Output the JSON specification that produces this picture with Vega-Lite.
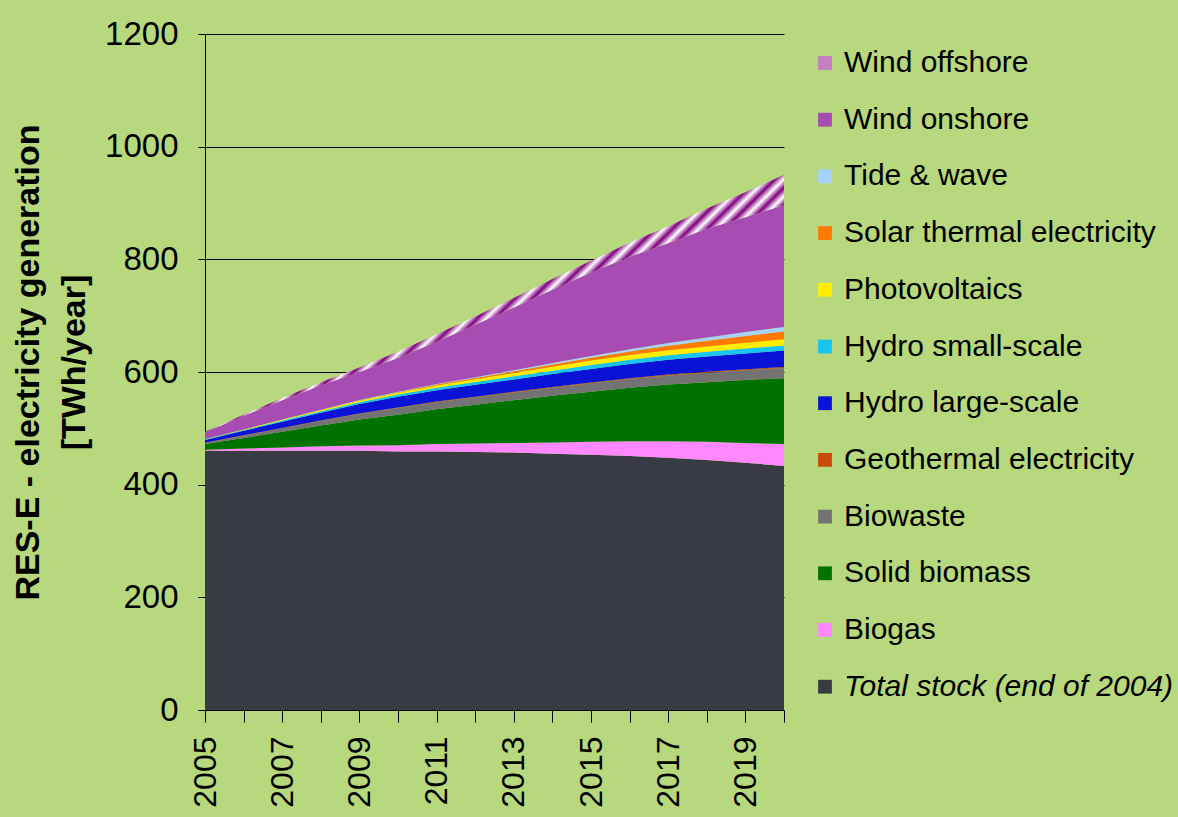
{
  "$schema": "https://vega.github.io/schema/vega-lite/v6.json",
  "width": 579,
  "height": 676,
  "autosize": "none",
  "padding": {"left": 205, "top": 34, "right": 394, "bottom": 107},
  "background": "#b7d87c",
  "config": {
    "view": {"stroke": null},
    "font": "Liberation Sans"
  },
  "datasets": {
    "series": [
      {"key": "stock", "name": "Total stock (end of 2004)", "ord": 1},
      {"key": "biogas", "name": "Biogas", "ord": 2},
      {"key": "solid", "name": "Solid biomass", "ord": 3},
      {"key": "biowaste", "name": "Biowaste", "ord": 4},
      {"key": "geo", "name": "Geothermal electricity", "ord": 5},
      {"key": "hl", "name": "Hydro large-scale", "ord": 6},
      {"key": "hs", "name": "Hydro small-scale", "ord": 7},
      {"key": "pv", "name": "Photovoltaics", "ord": 8},
      {"key": "st", "name": "Solar thermal electricity", "ord": 9},
      {"key": "tide", "name": "Tide & wave", "ord": 10},
      {"key": "on", "name": "Wind onshore", "ord": 11},
      {"key": "off", "name": "Wind offshore", "ord": 12}
    ]
  },
  "data": {
    "values": [
      {"year": 2005, "stock": 460, "biogas": 2, "solid": 10, "biowaste": 2, "geo": 0.5, "hl": 5, "hs": 1, "pv": 0.5, "st": 0, "tide": 0, "on": 12, "off": 1},
      {"year": 2006, "stock": 460, "biogas": 4, "solid": 19, "biowaste": 4, "geo": 0.6, "hl": 8, "hs": 1.5, "pv": 1, "st": 0, "tide": 0, "on": 24, "off": 2},
      {"year": 2007, "stock": 460, "biogas": 6, "solid": 28, "biowaste": 6, "geo": 0.7, "hl": 11, "hs": 2, "pv": 1.5, "st": 0.2, "tide": 0.1, "on": 34.5, "off": 4},
      {"year": 2008, "stock": 460, "biogas": 8, "solid": 37, "biowaste": 8, "geo": 0.8, "hl": 14, "hs": 2.5, "pv": 2, "st": 0.4, "tide": 0.2, "on": 43, "off": 6},
      {"year": 2009, "stock": 460, "biogas": 9.5, "solid": 46, "biowaste": 10, "geo": 0.9, "hl": 17, "hs": 3, "pv": 2.5, "st": 0.7, "tide": 0.5, "on": 50, "off": 8},
      {"year": 2010, "stock": 459, "biogas": 11, "solid": 54, "biowaste": 12, "geo": 1, "hl": 19, "hs": 4, "pv": 3, "st": 1, "tide": 1, "on": 60, "off": 11},
      {"year": 2011, "stock": 459, "biogas": 13, "solid": 62, "biowaste": 12.5, "geo": 1.1, "hl": 20, "hs": 4.5, "pv": 4, "st": 1.5, "tide": 1.2, "on": 75, "off": 13},
      {"year": 2012, "stock": 458, "biogas": 15, "solid": 69, "biowaste": 13, "geo": 1.2, "hl": 21, "hs": 5, "pv": 5, "st": 2, "tide": 1.5, "on": 93, "off": 15},
      {"year": 2013, "stock": 457, "biogas": 17, "solid": 76, "biowaste": 13.5, "geo": 1.3, "hl": 22, "hs": 5.5, "pv": 6, "st": 3, "tide": 2, "on": 111, "off": 17},
      {"year": 2014, "stock": 455, "biogas": 20, "solid": 83, "biowaste": 14, "geo": 1.4, "hl": 23, "hs": 6, "pv": 7, "st": 4, "tide": 2.5, "on": 130, "off": 19},
      {"year": 2015, "stock": 453, "biogas": 23, "solid": 89, "biowaste": 15, "geo": 1.5, "hl": 24, "hs": 7, "pv": 8, "st": 5, "tide": 3, "on": 148, "off": 21},
      {"year": 2016, "stock": 451, "biogas": 26, "solid": 95, "biowaste": 15.5, "geo": 1.6, "hl": 25, "hs": 7.5, "pv": 8.5, "st": 6.5, "tide": 4, "on": 164, "off": 25},
      {"year": 2017, "stock": 448, "biogas": 29, "solid": 101, "biowaste": 16, "geo": 1.7, "hl": 26, "hs": 8, "pv": 9, "st": 8, "tide": 5, "on": 177, "off": 30},
      {"year": 2018, "stock": 444, "biogas": 32, "solid": 106, "biowaste": 16.5, "geo": 1.8, "hl": 27, "hs": 8.5, "pv": 9.5, "st": 10, "tide": 6, "on": 193, "off": 36},
      {"year": 2019, "stock": 439, "biogas": 35, "solid": 112, "biowaste": 17, "geo": 1.9, "hl": 28, "hs": 9, "pv": 10, "st": 12, "tide": 7, "on": 204, "off": 44},
      {"year": 2020, "stock": 433, "biogas": 39, "solid": 117, "biowaste": 18, "geo": 2, "hl": 29, "hs": 9, "pv": 11, "st": 14, "tide": 8, "on": 216, "off": 54}
    ]
  },
  "transform": [
    {"fold": ["stock", "biogas", "solid", "biowaste", "geo", "hl", "hs", "pv", "st", "tide", "on", "off"], "as": ["key", "value"]},
    {"lookup": "key", "from": {"data": {"name": "series"}, "key": "key", "fields": ["name", "ord"]}}
  ],
  "mark": {"type": "area", "interpolate": "linear"},
  "encoding": {
    "x": {
      "field": "year", "type": "quantitative",
      "scale": {"domain": [2005, 2020], "nice": false, "zero": false},
      "axis": {
        "title": null,
        "values": [2005, 2006, 2007, 2008, 2009, 2010, 2011, 2012, 2013, 2014, 2015, 2016, 2017, 2018, 2019, 2020],
        "format": "d",
        "labelExpr": "datum.value % 2 == 1 ? datum.label : ''",
        "labelAngle": -90,
        "labelAlign": "right",
        "labelBaseline": "middle",
        "labelFontSize": 32,
        "labelColor": "#000000",
        "labelPadding": 14,
        "tickSize": 12,
        "tickColor": "#000000",
        "domainColor": "#000000",
        "grid": false,
        "labelOverlap": false,
        "labelFlush": false
      }
    },
    "y": {
      "field": "value", "type": "quantitative", "stack": "zero",
      "scale": {"domain": [0, 1200], "nice": false},
      "axis": {
        "title": ["RES-E - electricity generation", "[TWh/year]"],
        "titleFontSize": 34,
        "titleFontWeight": "bold",
        "titleColor": "#000000",
        "titleLineHeight": 46,
        "titlePadding": 13,
        "titleY": 328,
        "values": [0, 200, 400, 600, 800, 1000, 1200],
        "format": "d",
        "labelFontSize": 33,
        "labelColor": "#000000",
        "labelPadding": 20,
        "tickSize": 7,
        "tickColor": "#000000",
        "domainColor": "#000000",
        "gridColor": "#000000",
        "gridWidth": 1
      }
    },
    "color": {
      "field": "name", "type": "nominal",
      "condition": {
        "test": "datum.name == 'Wind offshore'",
        "value": {"gradient": "linear", "x1": 0, "y1": 0, "x2": 1, "y2": 0.45, "stops": [
            {"offset": 0, "color": "#800080"}, {"offset": 0.0125, "color": "#ffffff"},
            {"offset": 0.025, "color": "#800080"}, {"offset": 0.0375, "color": "#ffffff"},
            {"offset": 0.05, "color": "#800080"}, {"offset": 0.0625, "color": "#ffffff"},
            {"offset": 0.075, "color": "#800080"}, {"offset": 0.0875, "color": "#ffffff"},
            {"offset": 0.1, "color": "#800080"}, {"offset": 0.1125, "color": "#ffffff"},
            {"offset": 0.125, "color": "#800080"}, {"offset": 0.1375, "color": "#ffffff"},
            {"offset": 0.15, "color": "#800080"}, {"offset": 0.1625, "color": "#ffffff"},
            {"offset": 0.175, "color": "#800080"}, {"offset": 0.1875, "color": "#ffffff"},
            {"offset": 0.2, "color": "#800080"}, {"offset": 0.2125, "color": "#ffffff"},
            {"offset": 0.225, "color": "#800080"}, {"offset": 0.2375, "color": "#ffffff"},
            {"offset": 0.25, "color": "#800080"}, {"offset": 0.2625, "color": "#ffffff"},
            {"offset": 0.275, "color": "#800080"}, {"offset": 0.2875, "color": "#ffffff"},
            {"offset": 0.3, "color": "#800080"}, {"offset": 0.3125, "color": "#ffffff"},
            {"offset": 0.325, "color": "#800080"}, {"offset": 0.3375, "color": "#ffffff"},
            {"offset": 0.35, "color": "#800080"}, {"offset": 0.3625, "color": "#ffffff"},
            {"offset": 0.375, "color": "#800080"}, {"offset": 0.3875, "color": "#ffffff"},
            {"offset": 0.4, "color": "#800080"}, {"offset": 0.4125, "color": "#ffffff"},
            {"offset": 0.425, "color": "#800080"}, {"offset": 0.4375, "color": "#ffffff"},
            {"offset": 0.45, "color": "#800080"}, {"offset": 0.4625, "color": "#ffffff"},
            {"offset": 0.475, "color": "#800080"}, {"offset": 0.4875, "color": "#ffffff"},
            {"offset": 0.5, "color": "#800080"}, {"offset": 0.5125, "color": "#ffffff"},
            {"offset": 0.525, "color": "#800080"}, {"offset": 0.5375, "color": "#ffffff"},
            {"offset": 0.55, "color": "#800080"}, {"offset": 0.5625, "color": "#ffffff"},
            {"offset": 0.575, "color": "#800080"}, {"offset": 0.5875, "color": "#ffffff"},
            {"offset": 0.6, "color": "#800080"}, {"offset": 0.6125, "color": "#ffffff"},
            {"offset": 0.625, "color": "#800080"}, {"offset": 0.6375, "color": "#ffffff"},
            {"offset": 0.65, "color": "#800080"}, {"offset": 0.6625, "color": "#ffffff"},
            {"offset": 0.675, "color": "#800080"}, {"offset": 0.6875, "color": "#ffffff"},
            {"offset": 0.7, "color": "#800080"}, {"offset": 0.7125, "color": "#ffffff"},
            {"offset": 0.725, "color": "#800080"}, {"offset": 0.7375, "color": "#ffffff"},
            {"offset": 0.75, "color": "#800080"}, {"offset": 0.7625, "color": "#ffffff"},
            {"offset": 0.775, "color": "#800080"}, {"offset": 0.7875, "color": "#ffffff"},
            {"offset": 0.8, "color": "#800080"}, {"offset": 0.8125, "color": "#ffffff"},
            {"offset": 0.825, "color": "#800080"}, {"offset": 0.8375, "color": "#ffffff"},
            {"offset": 0.85, "color": "#800080"}, {"offset": 0.8625, "color": "#ffffff"},
            {"offset": 0.875, "color": "#800080"}, {"offset": 0.8875, "color": "#ffffff"},
            {"offset": 0.9, "color": "#800080"}, {"offset": 0.9125, "color": "#ffffff"},
            {"offset": 0.925, "color": "#800080"}, {"offset": 0.9375, "color": "#ffffff"},
            {"offset": 0.95, "color": "#800080"}, {"offset": 0.9625, "color": "#ffffff"},
            {"offset": 0.975, "color": "#800080"}, {"offset": 0.9875, "color": "#ffffff"},
            {"offset": 1, "color": "#800080"}
          ]}
      },
      "scale": {
        "domain": ["Wind offshore", "Wind onshore", "Tide & wave", "Solar thermal electricity", "Photovoltaics", "Hydro small-scale", "Hydro large-scale", "Geothermal electricity", "Biowaste", "Solid biomass", "Biogas", "Total stock (end of 2004)"],
        "range": ["#c27fc2", "#a64cb2", "#a6d2fa", "#ff7a00", "#ffee00", "#18c4f2", "#0a12d8", "#c84a0c", "#737373", "#007200", "#ff88ff", "#383c42"]
      },
      "legend": {
        "title": null,
        "orient": "none",
        "legendX": 605,
        "legendY": 14,
        "symbolType": "square",
        "symbolSize": 190,
        "symbolStrokeWidth": 0,
        "labelFontSize": 30,
        "labelColor": "#000000",
        "labelLimit": 400,
        "labelOffset": 4,
        "labelFontStyle": {"expr": "datum.label == 'Total stock (end of 2004)' ? 'italic' : 'normal'"},
        "rowPadding": 26.7,
        "padding": 0
      }
    },
    "order": {"field": "ord", "type": "quantitative", "sort": "ascending"}
  }
}
